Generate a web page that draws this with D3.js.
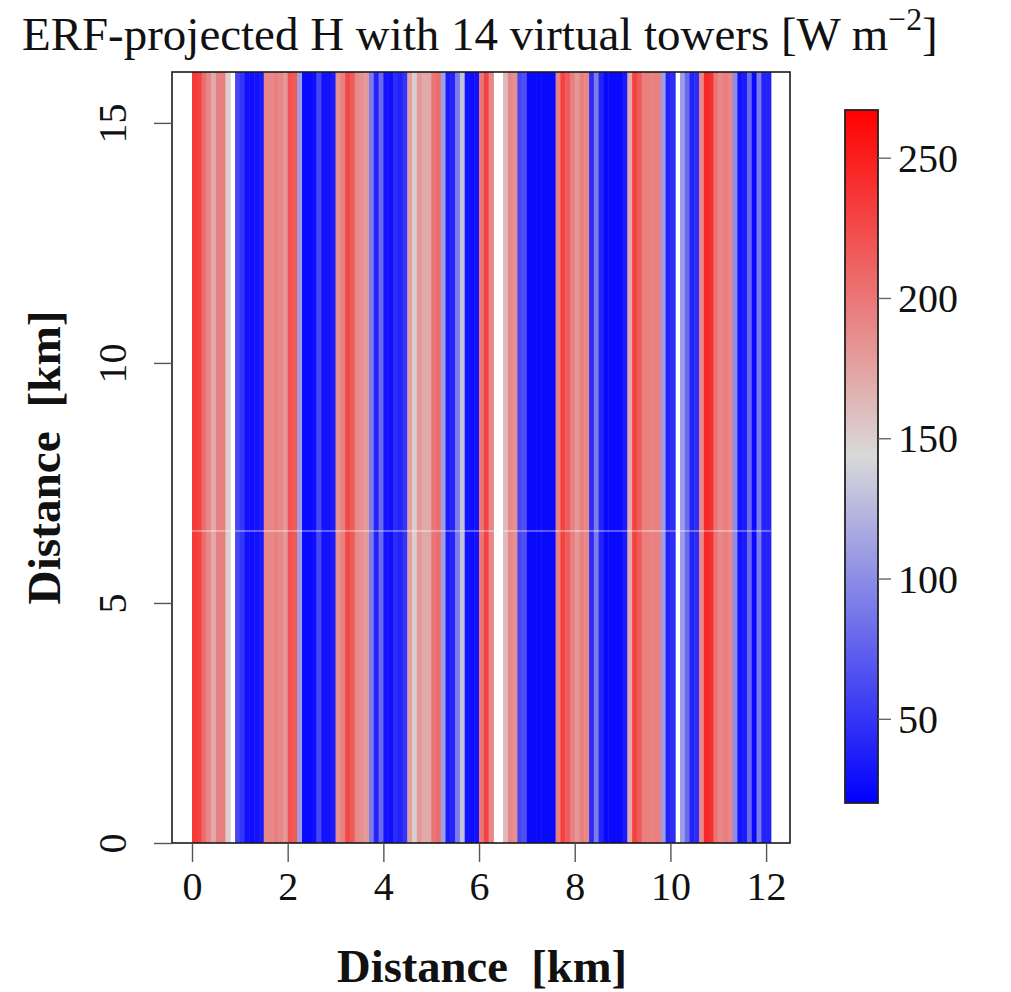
<!DOCTYPE html>
<html>
<head>
<meta charset="utf-8">
<script src="https://cdn.jsdelivr.net/npm/d3@7"></script>
<style>
  html, body { margin: 0; padding: 0; background: #ffffff; }
  svg { display: block; }
  text { font-family: "Liberation Serif", "DejaVu Serif", serif; fill: #111; }
</style>
</head>
<body>
<svg id="chart" width="1011" height="992"></svg>
<script>
// ---------------- data ----------------
const titleText = "ERF-projected H with 14 virtual towers [W m";
const titleSup = "\u22122";
const xLabel = "Distance  [km]";
const yLabel = "Distance  [km]";
const columnWidthKm = 0.1;
// sensible heat flux per 100 m column (W m-2), west -> east; null = no data (white)
const heatValues = [
  235, 230, 205, 190, 170, 195, 195, 150, null, 60,
  50, 30, 28, 30, 35, 190, 190, 195, 190, 180,
  220, 215, 110, 25, 25, 28, 60, 30, 30, 35,
  185, 195, 225, 215, 190, 185, 180, 90, 40, 80,
  30, 28, 45, 40, 50, 175, 150, 180, 170, 172,
  200, 205, 110, 35, 40, 90, 130, 30, 28, 30,
  200, 230, 190, null, null, 160, 190, 185, 60, 65,
  25, 25, 25, 25, 25, 25, 195, 230, 215, 195,
  180, 195, 190, 45, 90, 40, 25, 25, 25, 25,
  35, 170, 230, 215, 195, 195, 195, 195, 110, 40,
  45, null, 110, 80, 40, 45, 190, 245, 240, 200,
  190, 195, 190, 100, 30, 35, 80, 25, 90, 40,
  40
];
const yExtentKm = [0, 16.06];
const seamKm = 6.5;
const xTicks = [0, 2, 4, 6, 8, 10, 12];
const yTicks = [0, 5, 10, 15];
const colorDomain = [20, 143.5, 267];
const colorRange = ["#0000ff", "#d9d9d9", "#ff0000"];
const colorbarTicks = [50, 100, 150, 200, 250];

// ---------------- layout ----------------
const svg = d3.select("#chart");
const plot = { left: 172, right: 790, top: 72, bottom: 843 };
const cbBox = { left: 845, right: 878, top: 110, bottom: 803 };

const x = d3.scaleLinear().domain([-0.418, 12.5]).range([plot.left, plot.right]);
const y = d3.scaleLinear().domain(yExtentKm).range([plot.bottom, plot.top]);
const color = d3.scaleLinear().domain(colorDomain).range(colorRange).clamp(true);

// heatmap columns
const cols = heatValues.map((v, i) => ({ x0: i * columnWidthKm, v }));
svg.append("g")
  .selectAll("rect")
  .data(cols.filter(d => d.v !== null))
  .join("rect")
  .attr("x", d => x(d.x0))
  .attr("width", d => x(d.x0 + columnWidthKm) - x(d.x0) + 0.5)
  .attr("y", y(yExtentKm[1]))
  .attr("height", y(yExtentKm[0]) - y(yExtentKm[1]))
  .attr("fill", d => color(d.v));

// faint tile seam
svg.append("rect")
  .attr("x", x(0))
  .attr("width", x(heatValues.length * columnWidthKm) - x(0))
  .attr("y", y(seamKm) - 1)
  .attr("height", 2)
  .attr("fill", "#ffffff")
  .attr("opacity", 0.35);

// plot box
svg.append("rect")
  .attr("x", plot.left).attr("y", plot.top)
  .attr("width", plot.right - plot.left)
  .attr("height", plot.bottom - plot.top)
  .attr("fill", "none").attr("stroke", "#1a1a1a").attr("stroke-width", 1.6);

// x axis
const xAxis = d3.axisBottom(x).tickValues(xTicks).tickSize(19).tickPadding(8).tickFormat(d3.format("d"));
const gx = svg.append("g").attr("transform", `translate(0,${plot.bottom})`).call(xAxis);
gx.select(".domain").remove();
gx.selectAll(".tick line").attr("stroke", "#555").attr("stroke-width", 1.4);
gx.selectAll(".tick text")
  .attr("font-family", "Liberation Serif, serif")
  .attr("font-size", 40).attr("fill", "#111")
  .attr("dy", null).attr("y", 43).attr("dominant-baseline", "central");

// y axis
const yAxis = d3.axisLeft(y).tickValues(yTicks).tickSize(18).tickFormat(d3.format("d"));
const gy = svg.append("g").attr("transform", `translate(${plot.left},0)`).call(yAxis);
gy.select(".domain").remove();
gy.selectAll(".tick line").attr("stroke", "#555").attr("stroke-width", 1.4);
gy.selectAll(".tick text")
  .attr("font-family", "Liberation Serif, serif")
  .attr("font-size", 40).attr("fill", "#111")
  .attr("x", null).attr("dy", null)
  .attr("text-anchor", "middle").attr("dominant-baseline", "central")
  .attr("transform", "translate(-60,0) rotate(-90)");

// axis titles
function fitText(sel, targetWidth) {
  const w = sel.node().getComputedTextLength();
  const fs = parseFloat(sel.attr("font-size"));
  sel.attr("font-size", fs * targetWidth / w);
}
const xt = svg.append("text")
  .attr("x", 482).attr("y", 982)
  .attr("text-anchor", "middle")
  .attr("font-weight", "bold").attr("font-size", 38)
  .style("white-space", "pre")
  .text(xLabel);
fitText(xt, 290);

const yt = svg.append("text")
  .attr("transform", `translate(44,${(plot.top + plot.bottom) / 2}) rotate(-90)`)
  .attr("text-anchor", "middle").attr("dominant-baseline", "central")
  .attr("font-weight", "bold").attr("font-size", 40)
  .style("white-space", "pre")
  .text(yLabel);
fitText(yt, 294);

// title
const title = svg.append("text")
  .attr("x", 22).attr("y", 50)
  .attr("font-size", 40);
title.append("tspan").text(titleText);
title.append("tspan").attr("font-size", 27).attr("dy", -17).text(titleSup);
title.append("tspan").attr("dy", 17).text("]");
{
  const w = title.node().getBBox().width;
  const s = 916 / w;
  title.attr("transform", `translate(22,50) scale(${s}) translate(-22,-50)`);
}

// colorbar
const cb = d3.scaleLinear().domain([colorDomain[0], colorDomain[2]]).range([cbBox.bottom, cbBox.top]);
const defs = svg.append("defs");
const grad = defs.append("linearGradient").attr("id", "cbgrad")
  .attr("x1", 0).attr("y1", 1).attr("x2", 0).attr("y2", 0);
grad.selectAll("stop")
  .data(colorDomain)
  .join("stop")
  .attr("offset", d => (d - colorDomain[0]) / (colorDomain[2] - colorDomain[0]))
  .attr("stop-color", d => color(d));
svg.append("rect")
  .attr("x", cbBox.left).attr("y", cbBox.top)
  .attr("width", cbBox.right - cbBox.left).attr("height", cbBox.bottom - cbBox.top)
  .attr("fill", "url(#cbgrad)")
  .attr("stroke", "#222").attr("stroke-width", 1.8);

const cbAxis = d3.axisRight(cb).tickValues(colorbarTicks).tickSize(13).tickPadding(7).tickFormat(d3.format("d"));
const gcb = svg.append("g").attr("transform", `translate(${cbBox.right},0)`).call(cbAxis);
gcb.select(".domain").remove();
gcb.selectAll(".tick line").attr("stroke", "#666").attr("stroke-width", 1.4);
gcb.selectAll(".tick text")
  .attr("font-family", "Liberation Serif, serif")
  .attr("font-size", 40).attr("fill", "#111")
  .attr("dy", null).attr("dominant-baseline", "central");
</script>
</body>
</html>
